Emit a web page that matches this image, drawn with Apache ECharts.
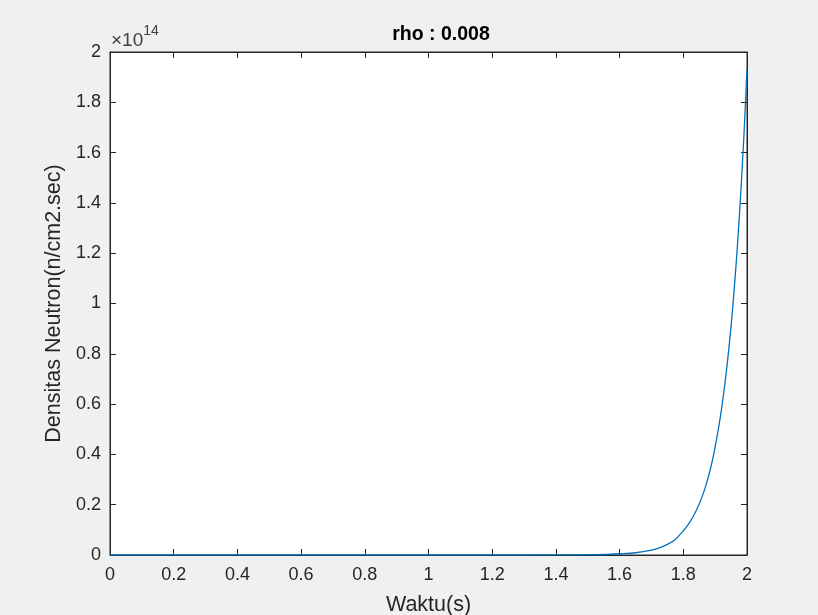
<!DOCTYPE html>
<html>
<head>
<meta charset="utf-8">
<script src="https://cdn.jsdelivr.net/npm/echarts@6/dist/echarts.min.js"></script>
<style>
html,body{margin:0;padding:0;background:#f0f0f0;}
#c{width:818px;height:615px;}
</style>
</head>
<body>
<div id="c"></div>
<script>
// Data (values in units of 1e14 n/cm2.sec)
var titleText = 'rho : 0.008';
var xName = 'Waktu(s)';
var yName = 'Densitas Neutron(n/cm2.sec)';
var timeS = [0,0.2,0.4,0.6,0.8,1.0,1.2,1.4,1.5,1.55,1.6,1.65,1.7,1.725,1.75,1.775,
             1.8,1.81,1.82,1.83,1.84,1.85,1.86,1.87,1.88,1.89,1.9,1.91,1.92,1.93,1.94,1.95,1.96,1.97,1.98,1.99,2.0];
var density = [0,0,0,0,0,0,0,0.0003,0.001,0.002,0.005,0.009,0.019,0.028,0.042,0.062,
               0.096,0.112,0.13,0.151,0.175,0.203,0.235,0.273,0.317,0.368,0.43,0.5,0.58,0.675,0.785,0.91,1.06,1.23,1.43,1.66,1.93];
var xTicks = [0,0.2,0.4,0.6,0.8,1,1.2,1.4,1.6,1.8,2];
var yTicks = [0,0.2,0.4,0.6,0.8,1,1.2,1.4,1.6,1.8,2];

var points = timeS.map(function(t,i){return [t, density[i]];});
var axisColor = '#262626';
var fontFam = '"Liberation Sans", Arial, Helvetica, sans-serif';
function fmt(v){ return String(+v.toFixed(1)); }

var chart = echarts.init(document.getElementById('c'));
chart.setOption({
  backgroundColor: '#f0f0f0',
  animation: false,
  title: {
    text: titleText,
    left: 436, top: 20, textAlign: 'center',
    textStyle: {fontFamily: fontFam, fontSize: 19.5, fontWeight: 'bold', color: '#000'}
  },
  grid: {
    left: 110, right: 71, top: 52, bottom: 60,
    outerBoundsMode: 'none', containLabel: false,
    show: true, backgroundColor: '#ffffff', borderColor: axisColor, borderWidth: 1
  },
  graphic: [{
    type: 'text', left: 111, top: 24,
    style: {
      text: '{a|×10}{b|14}',
      fill: axisColor,
      rich: {
        a: {fontFamily: fontFam, fontSize: 19, fill: '#404040', verticalAlign: 'bottom', lineHeight: 26},
        b: {fontFamily: fontFam, fontSize: 14, fill: '#404040', verticalAlign: 'top', lineHeight: 15}
      }
    }
  }],
  xAxis: [{
    type: 'value', min: 0, max: 2, interval: 0.2,
    name: xName, nameLocation: 'middle', nameGap: 39,
    nameTextStyle: {fontFamily: fontFam, fontSize: 21.5, color: axisColor},
    axisLine: {show: true, onZero: false, lineStyle: {color: axisColor, width: 1}},
    axisTick: {show: true, inside: true, length: 6, lineStyle: {color: axisColor}},
    axisLabel: {fontFamily: fontFam, fontSize: 18, color: axisColor, margin: 11, formatter: fmt},
    splitLine: {show: false}
  }, {
    type: 'value', min: 0, max: 2, interval: 0.2, position: 'top',
    axisLine: {show: true, onZero: false, lineStyle: {color: axisColor, width: 1}},
    axisTick: {show: true, inside: true, length: 6, lineStyle: {color: axisColor}},
    axisLabel: {show: false}, splitLine: {show: false}
  }],
  yAxis: [{
    type: 'value', min: 0, max: 2, interval: 0.2,
    name: yName, nameLocation: 'middle', nameGap: 44,
    nameTextStyle: {fontFamily: fontFam, fontSize: 21.5, color: axisColor},
    axisLine: {show: true, onZero: false, lineStyle: {color: axisColor, width: 1}},
    axisTick: {show: true, inside: true, length: 6, lineStyle: {color: axisColor}},
    axisLabel: {fontFamily: fontFam, fontSize: 18, color: axisColor, margin: 9, formatter: fmt},
    splitLine: {show: false}
  }, {
    type: 'value', min: 0, max: 2, interval: 0.2, position: 'right',
    axisLine: {show: true, onZero: false, lineStyle: {color: axisColor, width: 1}},
    axisTick: {show: true, inside: true, length: 6, lineStyle: {color: axisColor}},
    axisLabel: {show: false}, splitLine: {show: false}
  }],
  series: [{
    type: 'line', data: points, showSymbol: false, smooth: 0.3,
    xAxisIndex: 0, yAxisIndex: 0,
    lineStyle: {color: '#0072BD', width: 1.3},
    itemStyle: {color: '#0072BD'}
  }]
});
</script>
</body>
</html>
